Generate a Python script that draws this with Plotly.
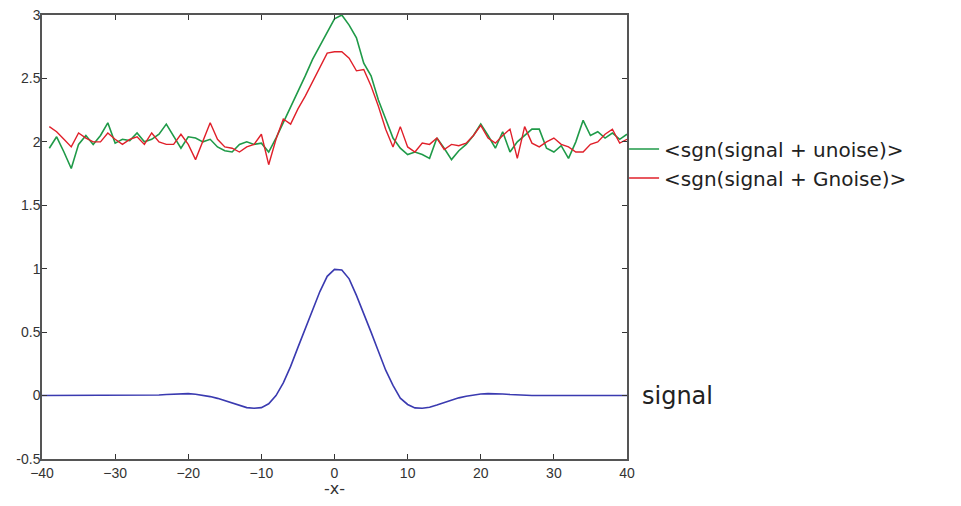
import plotly.graph_objects as go

x_noise = list(range(-39, 41))
green_u = [1.95, 2.04, 1.92, 1.79, 1.98, 2.05, 1.98, 2.05, 2.15, 1.99,
           2.02, 2.01, 2.07, 2.00, 2.02, 2.06, 2.14, 2.04, 1.95, 2.04,
           2.03, 2.00, 2.02, 1.96, 1.93, 1.92, 1.98, 2.00, 1.98, 1.99,
           1.92, 2.03, 2.15, 2.28, 2.40, 2.52, 2.65, 2.76, 2.87, 2.97,
           3.00, 2.92, 2.82, 2.62, 2.52, 2.33, 2.18, 2.03, 1.95, 1.90,
           1.92, 1.90, 1.87, 2.03, 1.95, 1.86, 1.93, 1.98, 2.05, 2.14,
           2.05, 1.95, 2.08, 1.92, 2.00, 2.05, 2.10, 2.10, 1.95, 1.92,
           1.97, 1.87, 2.00, 2.17, 2.05, 2.08, 2.03, 2.07, 2.02, 2.06]
red_g = [2.12, 2.08, 2.02, 1.96, 2.07, 2.03, 2.00, 2.00, 2.07, 2.02,
         1.98, 2.02, 2.04, 1.98, 2.07, 2.00, 1.98, 1.98, 2.06, 1.98,
         1.86, 2.00, 2.15, 2.02, 1.96, 1.95, 1.92, 1.96, 1.98, 2.06,
         1.82, 2.02, 2.18, 2.14, 2.26, 2.36, 2.47, 2.58, 2.70, 2.71,
         2.71, 2.66, 2.56, 2.57, 2.44, 2.28, 2.10, 1.96, 2.12, 1.96,
         1.92, 1.99, 1.98, 2.03, 1.94, 1.98, 1.97, 1.99, 2.05, 2.13,
         2.03, 1.99, 2.05, 2.10, 1.87, 2.12, 1.99, 1.96, 2.00, 2.03,
         1.98, 1.96, 1.92, 1.92, 1.98, 2.00, 2.06, 2.10, 1.99, 2.02]

x_signal = list(range(-40, 41))
signal = ([0] * 15 +
          [0.004, 0.004, 0.008, 0.012, 0.015, 0.015, 0.01, 0.003, -0.008, -0.022,
           -0.04, -0.06, -0.08, -0.095, -0.1, -0.095, -0.065, 0.0, 0.1, 0.23,
           0.38, 0.53, 0.68, 0.82, 0.94, 0.995, 0.99] +
          [0.92, 0.79, 0.65, 0.50, 0.35, 0.20, 0.08, -0.02, -0.07, -0.097,
           -0.1, -0.092, -0.075, -0.055, -0.035, -0.018, -0.005, 0.005, 0.012, 0.015,
           0.015, 0.012, 0.008, 0.004] +
          [0] * 15)

x_ticks = [-40, -30, -20, -10, 0, 10, 20, 30, 40]
y_ticks = [-0.5, 0, 0.5, 1, 1.5, 2, 2.5, 3]
y_tick_labels = ["-0.5", "0", "0.5", "1", "1.5", "2", "2.5", "3"]

fig = go.Figure()
fig.add_trace(go.Scatter(x=x_noise, y=green_u, mode="lines",
                         line=dict(color="#1f9a48", width=1.6),
                         name="<sgn(signal + unoise)>"))
fig.add_trace(go.Scatter(x=x_noise, y=red_g, mode="lines",
                         line=dict(color="#e0202a", width=1.4),
                         name="<sgn(signal + Gnoise)>"))
fig.add_trace(go.Scatter(x=x_signal, y=signal, mode="lines",
                         line=dict(color="#3a3ab0", width=1.6),
                         name="signal", showlegend=False))

fig.add_annotation(x=1.022, xref="paper", y=0, yref="y", text="signal",
                   showarrow=False, xanchor="left", yanchor="middle",
                   font=dict(family="DejaVu Sans", size=24, color="#222"))

axis_common = dict(showline=True, linecolor="#555", linewidth=1.5, mirror="ticks",
                   ticks="inside", ticklen=5, tickcolor="#333", showgrid=False,
                   zeroline=False, automargin=False, ticklabeloverflow="allow",
                   tickfont=dict(family="Liberation Sans Narrow, Arial", size=14, color="#333"))

fig.update_layout(
    width=945, height=490,
    margin=dict(l=34, r=326, t=7, b=39),
    plot_bgcolor="white", paper_bgcolor="white",
    xaxis=dict(range=[-40, 40], tickvals=x_ticks, ticklabelstandoff=0,
               title=dict(text="-x-", standoff=3,
               font=dict(family="DejaVu Sans", size=16, color="#333")), **axis_common),
    yaxis=dict(range=[-0.5, 3], tickvals=y_ticks, ticktext=y_tick_labels,
               ticklabelstandoff=-3, **axis_common),
    legend=dict(x=0.995, y=0.742, xanchor="left", yanchor="top",
                font=dict(family="DejaVu Sans", size=20, color="#222"),
                bgcolor="rgba(0,0,0,0)", tracegroupgap=0, itemwidth=30),
    showlegend=True,
)

fig.write_html("out.html")
